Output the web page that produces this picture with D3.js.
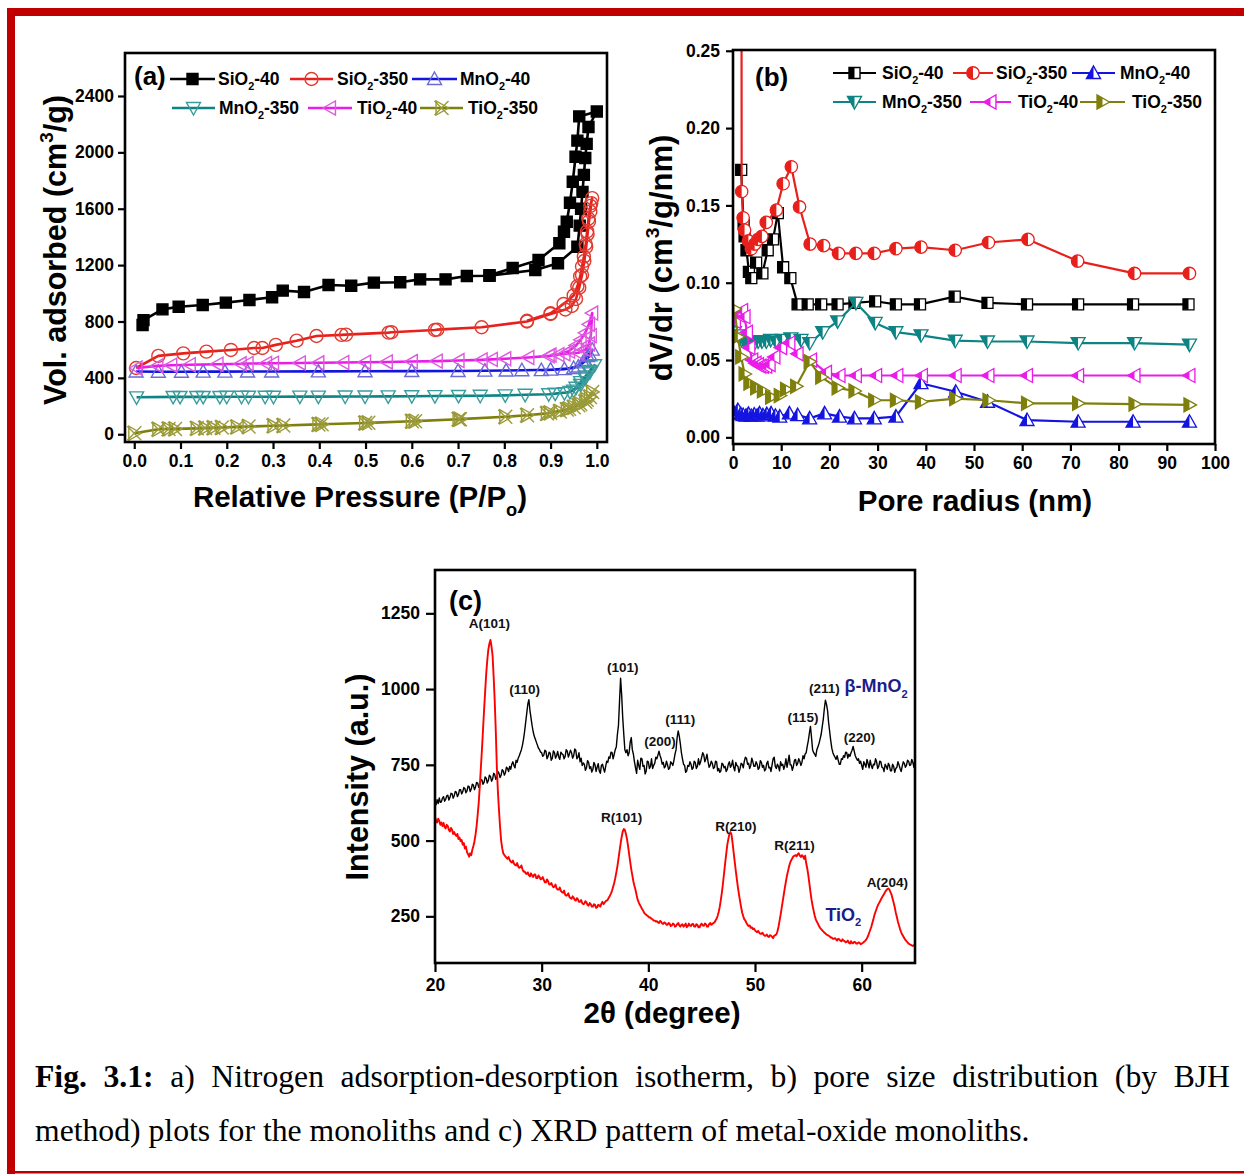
<!DOCTYPE html>
<html>
<head>
<meta charset="utf-8">
<script src="https://cdn.jsdelivr.net/npm/d3@7/dist/d3.min.js"></script>
<style>
  body { margin: 0; background: #fff; }
</style>
</head>
<body>
<svg id="fig" width="1244" height="1174" font-family="Arial, 'Liberation Sans', sans-serif"></svg>
<script>
// ---------- (a) N2 adsorption–desorption isotherms: [P/Po, volume cm3/g] ----------
const isoSiO2_40 = [[0.018,775],[0.02,810],[0.061,886],[0.096,905],[0.148,917],[0.198,934],[0.249,953],[0.298,972],[0.321,1019],[0.367,1009],[0.42,1059],[0.469,1054],[0.518,1076],[0.575,1078],[0.618,1099],[0.673,1099],[0.719,1123],[0.768,1125],[0.867,1165],[0.916,1213],[0.958,1330],[0.963,1480],[0.966,1600],[0.969,1720],[0.972,1840],[0.975,1960],[0.978,2060],[0.982,2180],[1.0,2290],[0.962,2255],[0.958,2083],[0.954,1969],[0.948,1792],[0.942,1643],[0.935,1508],[0.929,1437],[0.919,1355],[0.874,1236],[0.818,1180],[0.768,1128]];
const isoSiO2_350 = [[0.004,470],[0.052,556],[0.106,574],[0.156,586],[0.209,598],[0.259,612],[0.277,612],[0.306,634],[0.351,664],[0.394,697],[0.448,705],[0.458,707],[0.55,721],[0.556,724],[0.65,740],[0.655,742],[0.751,759],[0.849,800],[0.9,853],[0.932,885],[0.946,910],[0.955,960],[0.962,1040],[0.968,1130],[0.973,1230],[0.977,1330],[0.98,1420],[0.983,1510],[0.986,1580],[0.988,1640],[0.99,1675],[0.986,1620],[0.982,1530],[0.979,1440],[0.976,1350],[0.972,1260],[0.968,1190],[0.964,1120],[0.958,1050],[0.95,985],[0.928,924],[0.9,858],[0.849,805]];
const isoMnO2_40 = [[0.004,445],[0.052,443],[0.102,443],[0.149,444],[0.196,444],[0.245,445],[0.297,445],[0.398,446],[0.499,447],[0.6,448],[0.7,449],[0.758,451],[0.804,452],[0.838,454],[0.9,458],[0.95,470],[0.97,510],[0.98,555],[0.99,600],[0.985,560],[0.975,520],[0.96,480],[0.93,462],[0.88,455]];
const isoMnO2_350 = [[0.005,262],[0.084,265],[0.099,265],[0.135,265],[0.149,265],[0.185,265],[0.2,266],[0.232,266],[0.247,266],[0.283,266],[0.301,266],[0.358,267],[0.398,267],[0.456,268],[0.499,268],[0.549,269],[0.6,270],[0.65,271],[0.701,272],[0.748,273],[0.802,276],[0.845,280],[0.896,284],[0.91,288],[0.942,300],[0.955,330],[0.965,370],[0.975,410],[0.985,450],[0.995,490],[0.985,440],[0.975,395],[0.965,350],[0.95,310],[0.93,292]];
const isoTiO2_40 = [[0.005,470],[0.05,485],[0.08,490],[0.12,493],[0.18,497],[0.23,500],[0.245,502],[0.285,503],[0.3,504],[0.358,506],[0.398,507],[0.452,509],[0.499,511],[0.546,513],[0.6,516],[0.654,519],[0.701,523],[0.751,528],[0.773,531],[0.802,536],[0.852,545],[0.896,556],[0.917,565],[0.94,590],[0.955,630],[0.965,670],[0.975,720],[0.983,780],[0.99,860],[0.987,700],[0.983,640],[0.975,600],[0.96,578],[0.93,570],[0.9,562]];
const isoTiO2_350 = [[0.0,7],[0.052,35],[0.074,38],[0.088,38],[0.135,42],[0.153,44],[0.171,46],[0.189,48],[0.222,52],[0.247,55],[0.301,60],[0.322,62],[0.398,70],[0.405,71],[0.499,80],[0.506,81],[0.6,92],[0.607,93],[0.701,106],[0.704,107],[0.802,124],[0.849,135],[0.892,148],[0.899,152],[0.935,175],[0.95,192],[0.964,215],[0.978,245],[0.99,300],[0.985,265],[0.975,230],[0.96,205],[0.94,180],[0.92,162]];

// ---------- (b) BJH pore size distribution: [pore radius nm, dV/dr] ----------
const psdSiO2_40 = [[1.7,0.173],[2.2,0.138],[2.4,0.130],[2.8,0.121],[3.3,0.107],[3.8,0.103],[4.8,0.113],[6.1,0.106],[7.2,0.121],[8.3,0.128],[9.3,0.145],[10.4,0.110],[11.9,0.103],[13.4,0.086],[15.5,0.086],[18.3,0.086],[21.7,0.086],[25.2,0.087],[29.5,0.088],[33.8,0.086],[38.8,0.086],[46.0,0.091],[52.8,0.087],[61.0,0.086],[71.6,0.086],[83.0,0.086],[94.5,0.086]];
const psdSiO2_350 = [[1.75,0.34],[1.8,0.159],[2.1,0.142],[2.4,0.134],[3.2,0.127],[3.8,0.122],[4.5,0.125],[5.2,0.128],[6.0,0.130],[6.9,0.139],[9.0,0.147],[10.4,0.164],[12.1,0.175],[13.8,0.149],[16.0,0.125],[18.8,0.124],[21.9,0.119],[25.5,0.119],[29.3,0.119],[33.8,0.122],[39.0,0.123],[46.1,0.121],[53.0,0.126],[61.2,0.128],[71.5,0.114],[83.3,0.106],[94.7,0.106]];
const psdMnO2_40 = [[0.3,0.0155],[1.0,0.0177],[1.6,0.0150],[2.1,0.0144],[2.7,0.0140],[3.2,0.0152],[3.8,0.0138],[4.4,0.0148],[5.0,0.0140],[5.5,0.0155],[6.2,0.0142],[7.0,0.0150],[7.9,0.0155],[8.8,0.0140],[9.7,0.0134],[11.7,0.0155],[13.4,0.0144],[15.9,0.0123],[19.0,0.0155],[22.1,0.0134],[25.2,0.0123],[29.3,0.0123],[33.8,0.0134],[39.0,0.035],[46.2,0.0295],[52.8,0.023],[61.0,0.0112],[71.6,0.0101],[83.0,0.0101],[94.7,0.0101]];
const psdMnO2_350 = [[0.3,0.068],[1.0,0.066],[1.8,0.063],[2.5,0.062],[3.2,0.061],[3.8,0.062],[4.5,0.061],[5.2,0.062],[6.0,0.062],[6.9,0.062],[7.8,0.063],[8.9,0.062],[10.2,0.063],[12.0,0.064],[14.1,0.063],[15.9,0.061],[18.6,0.068],[21.7,0.075],[25.5,0.087],[29.5,0.074],[33.8,0.068],[39.0,0.066],[46.1,0.0625],[52.8,0.062],[61.0,0.062],[71.6,0.061],[83.3,0.061],[94.7,0.060]];
const psdTiO2_40 = [[0.4,0.075],[1.2,0.079],[1.9,0.082],[2.4,0.078],[2.9,0.068],[3.4,0.058],[4.0,0.050],[4.7,0.048],[5.2,0.047],[5.7,0.046],[6.2,0.046],[6.9,0.046],[7.6,0.047],[8.6,0.052],[10.0,0.058],[11.7,0.061],[13.4,0.054],[16.2,0.050],[19.3,0.042],[22.1,0.040],[25.5,0.040],[29.7,0.040],[34.1,0.040],[39.2,0.040],[46.2,0.040],[53.0,0.040],[61.0,0.040],[71.6,0.040],[83.3,0.040],[94.7,0.040]];
const psdTiO2_350 = [[0.3,0.083],[1.0,0.065],[1.7,0.052],[2.4,0.041],[3.4,0.035],[4.8,0.032],[6.2,0.030],[7.9,0.026],[9.7,0.027],[11.0,0.031],[13.1,0.033],[15.9,0.049],[18.3,0.039],[21.7,0.032],[25.2,0.030],[29.3,0.024],[33.8,0.024],[39.0,0.023],[46.1,0.025],[53.0,0.024],[61.0,0.022],[71.6,0.022],[83.3,0.0215],[94.7,0.021]];

// ---------- (c) XRD patterns, 2θ = 20.0° … 65.0° in 0.1° steps (one row per degree) ----------
const xrdStart = 20, xrdStep = 0.1;
const xrdMnO2 = [
  630,618,635,622,641,626,628,640,645,630,
  636,648,650,634,642,656,655,640,648,662,
  660,645,652,668,668,654,661,675,672,658,
  664,680,678,662,670,686,683,668,677,692,
  690,676,684,702,700,686,692,710,706,690,
  698,716,712,696,703,722,718,702,710,728,
  722,708,716,734,730,716,724,742,738,728,
  745,735,752,760,748,740,765,758,772,780,
  790,800,815,835,860,890,920,950,965,930,
  905,880,860,845,835,825,815,805,800,792,
  790,778,782,798,795,770,778,792,788,765,
  772,796,790,772,780,794,776,768,792,786,
  784,770,778,800,795,776,786,798,790,772,
  780,802,798,770,775,790,760,772,748,756,
  752,732,740,764,758,738,744,726,735,758,
  750,728,742,754,730,722,748,752,738,726,
  745,762,758,776,772,792,790,770,785,800,
  810,850,880,960,1036,980,905,850,800,790,
  800,780,790,825,840,800,785,760,740,722,
  765,748,735,772,770,745,748,720,730,762,
  760,738,745,770,738,748,755,775,770,782,
  795,780,770,752,758,740,745,762,750,735,
  740,760,755,748,765,785,800,840,862,845,
  820,790,770,752,748,725,730,748,745,760,
  752,735,740,762,758,738,745,770,750,760,
  775,790,782,760,770,785,760,742,748,762,
  755,738,742,762,760,730,738,725,730,755,
  752,740,745,728,735,752,760,742,748,765,
  742,730,758,748,745,725,738,755,752,740,
  762,775,772,752,755,738,748,772,760,745,
  745,760,752,735,740,764,758,742,748,730,
  735,755,762,740,742,728,750,770,775,745,
  738,752,745,730,760,748,752,735,748,770,
  742,760,782,750,750,732,745,765,768,748,
  755,770,762,748,758,780,770,786,790,812,
  830,855,877,840,800,790,785,778,800,810,
  820,835,850,875,900,935,963,950,930,890,
  860,830,805,790,782,775,768,780,765,752,
  752,770,768,780,775,792,790,772,785,778,
  790,798,811,795,780,772,765,770,755,762,
  748,735,760,752,742,768,755,740,765,748,
  738,752,750,770,760,738,745,762,760,742,
  740,728,752,745,735,755,748,730,730,752,
  745,725,738,742,760,750,738,728,745,760,
  755,742,748,765,762,748,750,768,758,742,
  770
];
const xrdTiO2 = [
  579,566,560,572,565,552,560,548,558,545,
  540,552,548,535,530,542,536,522,528,520,
  515,522,505,510,498,502,486,492,474,480,
  462,455,447,458,452,470,482,498,520,548,
  585,625,680,740,800,865,930,990,1050,1095,
  1130,1150,1162,1140,1110,1040,960,860,740,660,
  600,545,500,475,458,452,448,444,440,446,
  436,430,428,434,424,420,418,426,415,410,
  412,418,405,398,398,392,390,395,386,382,
  392,385,380,388,388,376,376,385,380,372,
  374,380,370,362,362,372,366,356,355,360,
  352,346,348,355,342,338,338,345,334,330,
  328,335,322,318,320,326,314,310,308,316,
  312,304,302,310,306,298,298,304,294,290,
  292,300,296,288,285,294,290,282,282,290,
  288,278,280,288,286,282,292,298,290,295,
  300,302,305,312,318,326,335,348,360,376,
  395,415,440,465,490,512,530,538,535,522,
  505,482,455,430,405,385,365,350,337,320,
  305,296,288,282,275,270,262,258,255,252,
  250,246,246,242,240,236,236,233,234,230,
  228,235,232,226,225,230,228,222,222,228,
  226,218,220,226,224,216,218,224,228,220,
  216,222,224,216,220,226,214,218,226,220,
  218,224,225,216,216,224,222,214,214,222,
  226,220,219,226,224,216,216,224,228,222,
  225,228,230,236,242,252,265,282,305,330,
  360,392,425,455,485,505,522,528,520,492,
  460,430,400,372,345,322,300,280,262,250,
  240,236,228,222,218,220,212,214,208,210,
  204,200,198,202,196,192,192,196,190,186,
  186,190,184,182,188,186,182,178,186,188,
  190,200,215,235,255,278,300,322,345,365,
  385,400,415,428,435,442,448,450,452,448,
  455,458,450,446,452,448,440,450,425,408,
  385,358,330,305,285,268,252,240,232,226,
  218,212,208,204,200,196,194,190,188,186,
  184,180,180,176,176,178,174,170,176,174,
  170,168,174,170,168,164,166,170,163,160,
  168,162,161,166,165,160,160,164,163,158,
  160,162,165,168,172,178,185,195,205,215,
  228,240,255,265,275,285,292,298,305,312,
  318,324,330,336,340,342,338,330,322,308,
  295,280,262,248,232,220,208,198,190,184,
  178,172,168,164,160,158,156,154,152,154,
  158
];
// reflection labels: [text, 2θ, intensity at label baseline]
const xrdPeakLabels = [
  ['A(101)',25.1,1202],['(110)',28.4,984],['(101)',37.6,1056],['(200)',41.1,812],
  ['(111)',43.0,885],['(115)',54.5,891],['(211)',56.5,987],['(220)',59.8,825],
  ['R(101)',37.5,561],['R(210)',48.2,532],['R(211)',53.7,469],['A(204)',62.4,347]
];
const xrdPhaseLabels = [['β-MnO_{2}',58.4,990],['TiO_{2}',56.6,235]];

// tick values
const isoXTicks = [0,0.1,0.2,0.3,0.4,0.5,0.6,0.7,0.8,0.9,1.0];
const isoYTicks = [0,400,800,1200,1600,2000,2400];
const psdXTicks = [0,10,20,30,40,50,60,70,80,90,100];
const psdYTicks = [0,0.05,0.10,0.15,0.20,0.25];
const xrdXTicks = [20,30,40,50,60];
const xrdYTicks = [250,500,750,1000,1250];

// caption
const captionLine1 = [['Fig.',true],['3.1:',true],['a)'],['Nitrogen'],['adsorption-desorption'],['isotherm,'],['b)'],['pore'],['size'],['distribution'],['(by'],['BJH']];
const captionLine2 = 'method) plots for the monoliths and c) XRD pattern of metal-oxide monoliths.';

// ---------- drawing ----------
const sansFont = "Arial, 'Liberation Sans', sans-serif";
const serifFont = "'Liberation Serif', 'Times New Roman', serif";
const svg = d3.select('#fig');
const defs = svg.append('defs');
defs.append('clipPath').attr('id','lhalf').attr('clipPathUnits','userSpaceOnUse')
  .append('rect').attr('x',-20).attr('y',-20).attr('width',20).attr('height',40);

// page border
svg.append('rect').attr('x',7).attr('y',8).attr('width',8).attr('height',1166).attr('fill','#c00000');
svg.append('rect').attr('x',7).attr('y',8).attr('width',1237).attr('height',8).attr('fill','#c00000');
svg.append('rect').attr('x',7).attr('y',1171).attr('width',1237).attr('height',2.5).attr('fill','#b80000');

// text with _{sub} and ^{sup} pieces
function rich(sel, str, size) {
  const re = /([_^])\{([^}]*)\}/g;
  let last = 0, cur = 0, m;
  const add = (txt, off, small) => {
    const t = sel.append('tspan').attr('dy', off - cur).text(txt);
    if (small) t.attr('font-size', size * 0.62);
    cur = off;
  };
  while ((m = re.exec(str))) {
    if (m.index > last) add(str.slice(last, m.index), 0, false);
    add(m[2], m[1] === '_' ? size * 0.3 : -size * 0.42, true);
    last = re.lastIndex;
  }
  if (last < str.length) add(str.slice(last), 0, false);
  return sel;
}

function markerPath(shape, s) {
  switch (shape) {
    case 'square': return `M${-s},${-s}H${s}V${s}H${-s}Z`;
    case 'circle': return `M${-s},0A${s},${s} 0 1,0 ${s},0A${s},${s} 0 1,0 ${-s},0Z`;
    case 'up': return `M0,${-s}L${s},${s*0.78}L${-s},${s*0.78}Z`;
    case 'down': return `M0,${s}L${s},${-s*0.78}L${-s},${-s*0.78}Z`;
    case 'left': return `M${-s},0L${s*0.78},${-s}L${s*0.78},${s}Z`;
    case 'right': return `M${s},0L${-s*0.78},${-s}L${-s*0.78},${s}Z`;
    case 'rightx': return `M${s},0L${-s*0.78},${-s}L${-s*0.78},${s}Z M${-s},${-s}L${s},${s}M${-s},${s}L${s},${-s}`;
  }
}

// one marker at (cx,cy); style 'filled' | 'open' | 'half'
function marker(g, cx, cy, shape, s, color, style, sw) {
  const m = g.append('g').attr('transform', `translate(${cx},${cy})`);
  const d = markerPath(shape, s);
  if (style === 'filled') {
    m.append('path').attr('d', d).attr('fill', color).attr('stroke', color).attr('stroke-width', sw);
  } else if (style === 'open') {
    m.append('path').attr('d', d).attr('fill', 'none').attr('stroke', color).attr('stroke-width', sw);
  } else {
    m.append('path').attr('d', d).attr('fill', '#fff');
    m.append('path').attr('d', d).attr('fill', color).attr('clip-path', 'url(#lhalf)');
    m.append('path').attr('d', d).attr('fill', 'none').attr('stroke', color).attr('stroke-width', sw);
  }
}

function panel(id, box, xDom, yDom) {
  const g = svg.append('g');
  const x = d3.scaleLinear().domain(xDom).range([box.x0, box.x1]);
  const y = d3.scaleLinear().domain(yDom).range([box.y1, box.y0]);
  defs.append('clipPath').attr('id', 'clip-' + id)
    .append('rect').attr('x', box.x0).attr('y', box.y0)
    .attr('width', box.x1 - box.x0).attr('height', box.y1 - box.y0);
  const plot = g.append('g').attr('clip-path', `url(#clip-${id})`);
  return { g, x, y, plot, box };
}

function axes(p, o) {
  const style = sel => {
    sel.select('.domain').remove();
    sel.attr('font-size', 17.5).attr('font-weight', 'bold').attr('font-family', sansFont);
    sel.selectAll('line').attr('stroke', '#000').attr('stroke-width', 2.2);
    sel.selectAll('text').attr('fill', '#000');
  };
  p.g.append('g').attr('transform', `translate(0,${p.box.y1})`)
    .call(d3.axisBottom(p.x).tickValues(o.xt).tickFormat(o.xf).tickSize(o.tl).tickPadding(o.xpad))
    .call(style);
  p.g.append('g').attr('transform', `translate(${p.box.x0},0)`)
    .call(d3.axisLeft(p.y).tickValues(o.yt).tickFormat(o.yf).tickSize(o.tl).tickPadding(o.ypad))
    .call(style);
  p.g.append('rect').attr('x', p.box.x0).attr('y', p.box.y0)
    .attr('width', p.box.x1 - p.box.x0).attr('height', p.box.y1 - p.box.y0)
    .attr('fill', 'none').attr('stroke', '#000').attr('stroke-width', 2.6);
}

function title(x, y, str, size, rotate) {
  const t = svg.append('text').attr('font-size', size).attr('font-weight', 'bold')
    .attr('text-anchor', 'middle').attr('fill', '#000');
  if (rotate) t.attr('transform', `translate(${x},${y}) rotate(-90)`);
  else t.attr('x', x).attr('y', y);
  rich(t, str, size);
}

function legendEntry(g, item, x0, x1, y, tx, s, mstyle, lw) {
  g.append('line').attr('x1', x0).attr('x2', x1).attr('y1', y).attr('y2', y)
    .attr('stroke', item.color).attr('stroke-width', lw);
  marker(g, (x0 + x1) / 2, y, item.shape, s, mstyle === 'half' ? item.color : item.mcolor,
         item.filled ? 'filled' : mstyle, 1.4);
  const t = g.append('text').attr('x', tx).attr('y', y + 6).attr('font-size', 17.5)
    .attr('font-weight', 'bold').attr('fill', '#000');
  rich(t, item.name, 17.5);
}

// ===== (a) =====
const isoSeries = [
  { name: 'SiO_{2}-40',  data: isoSiO2_40,  color: '#000000', mcolor: '#000000', shape: 'square', filled: true, s: 5.5 },
  { name: 'SiO_{2}-350', data: isoSiO2_350, color: '#e8201c', mcolor: '#e23a30', shape: 'circle', s: 6.5 },
  { name: 'MnO_{2}-40',  data: isoMnO2_40,  color: '#1414e0', mcolor: '#6a6ad8', shape: 'up', s: 7 },
  { name: 'MnO_{2}-350', data: isoMnO2_350, color: '#0d8383', mcolor: '#3a9c9c', shape: 'down', s: 7 },
  { name: 'TiO_{2}-40',  data: isoTiO2_40,  color: '#ea1cea', mcolor: '#dc5adc', shape: 'left', s: 7 },
  { name: 'TiO_{2}-350', data: isoTiO2_350, color: '#7f7f0c', mcolor: '#9a9a38', shape: 'rightx', s: 7 }
];
const pA = panel('a', { x0: 125, x1: 607, y0: 53, y1: 442 }, [-0.02, 1.022], [-55, 2705]);
isoSeries.forEach(sr => {
  const line = d3.line().x(d => pA.x(d[0])).y(d => pA.y(d[1]));
  pA.plot.append('path').attr('d', line(sr.data)).attr('fill', 'none')
    .attr('stroke', sr.color).attr('stroke-width', 2.6).attr('stroke-linejoin', 'round');
  sr.data.forEach(d => marker(pA.plot, pA.x(d[0]), pA.y(d[1]), sr.shape, sr.s,
    sr.mcolor, sr.filled ? 'filled' : 'open', 1.4));
});
axes(pA, { xt: isoXTicks, xf: d3.format('.1f'), yt: isoYTicks, yf: d3.format('d'),
           tl: 7, xpad: 6, ypad: 4 });
svg.append('text').attr('x', 134).attr('y', 85).attr('font-size', 26)
  .attr('font-weight', 'bold').text('(a)');
const legA = svg.append('g');
legendEntry(legA, isoSeries[0], 170, 215, 79, 218, 5.5, 'open', 2.6);
legendEntry(legA, isoSeries[1], 290, 333, 79, 337, 6.5, 'open', 2.6);
legendEntry(legA, isoSeries[2], 412, 457, 79, 460, 7, 'open', 2.6);
legendEntry(legA, isoSeries[3], 172, 215, 108, 219, 7, 'open', 2.6);
legendEntry(legA, isoSeries[4], 308, 352, 108, 357, 7, 'open', 2.6);
legendEntry(legA, isoSeries[5], 420, 463, 108, 468, 7, 'open', 2.6);
title(360, 507, 'Relative Pressure (P/P_{o})', 29.5);
title(66, 250, 'Vol. adsorbed (cm^{3}/g)', 30.5, true);

// ===== (b) =====
const psdSeries = [
  { name: 'SiO_{2}-40',  data: psdSiO2_40,  color: '#000000', shape: 'square', s: 5.5 },
  { name: 'SiO_{2}-350', data: psdSiO2_350, color: '#e8201c', shape: 'circle', s: 6.2 },
  { name: 'MnO_{2}-40',  data: psdMnO2_40,  color: '#1414e0', shape: 'up', s: 7 },
  { name: 'MnO_{2}-350', data: psdMnO2_350, color: '#0d8383', shape: 'down', s: 7 },
  { name: 'TiO_{2}-40',  data: psdTiO2_40,  color: '#ea1cea', shape: 'left', s: 7 },
  { name: 'TiO_{2}-350', data: psdTiO2_350, color: '#7f7f0c', shape: 'right', s: 7 }
];
const pB = panel('b', { x0: 733, x1: 1215, y0: 50, y1: 444 }, [0, 100], [-0.0043, 0.2505]);
psdSeries.forEach(sr => {
  const line = d3.line().x(d => pB.x(d[0])).y(d => pB.y(d[1]));
  pB.plot.append('path').attr('d', line(sr.data)).attr('fill', 'none')
    .attr('stroke', sr.color).attr('stroke-width', 2.2).attr('stroke-linejoin', 'round');
  sr.data.forEach(d => marker(pB.plot, pB.x(d[0]), pB.y(d[1]), sr.shape, sr.s,
    sr.color, 'half', 1.3));
});
axes(pB, { xt: psdXTicks, xf: d3.format('d'), yt: psdYTicks, yf: d3.format('.2f'),
           tl: 7, xpad: 6, ypad: 6 });
svg.append('text').attr('x', 755).attr('y', 86).attr('font-size', 26)
  .attr('font-weight', 'bold').text('(b)');
const legB = svg.append('g');
legendEntry(legB, psdSeries[0], 833, 876, 73, 882, 5.5, 'half', 2.2);
legendEntry(legB, psdSeries[1], 953, 993, 73, 996, 6.2, 'half', 2.2);
legendEntry(legB, psdSeries[2], 1072, 1115, 73, 1120, 7, 'half', 2.2);
legendEntry(legB, psdSeries[3], 833, 876, 102, 882, 7, 'half', 2.2);
legendEntry(legB, psdSeries[4], 970, 1011, 102, 1018, 7, 'half', 2.2);
legendEntry(legB, psdSeries[5], 1080, 1125, 102, 1132, 7, 'half', 2.2);
title(975, 511, 'Pore radius (nm)', 29.5);
title(672, 258, 'dV/dr (cm^{3}/g/nm)', 31, true);

// ===== (c) =====
const pC = panel('c', { x0: 435, x1: 915, y0: 570, y1: 963 }, [20, 65], [96, 1393]);
const xrdLine = d3.line().x((d, i) => pC.x(xrdStart + i * xrdStep)).y(d => pC.y(d));
pC.plot.append('path').attr('d', xrdLine(xrdMnO2)).attr('fill', 'none')
  .attr('stroke', '#000').attr('stroke-width', 1.4).attr('stroke-linejoin', 'round');
pC.plot.append('path').attr('d', xrdLine(xrdTiO2)).attr('fill', 'none')
  .attr('stroke', '#ff0000').attr('stroke-width', 1.9).attr('stroke-linejoin', 'round');
axes(pC, { xt: xrdXTicks, xf: d3.format('d'), yt: xrdYTicks, yf: d3.format('d'),
           tl: 9, xpad: 7, ypad: 6 });
xrdPeakLabels.forEach(([txt, t, v]) => {
  svg.append('text').attr('x', pC.x(t)).attr('y', pC.y(v)).attr('text-anchor', 'middle')
    .attr('font-size', 13.5).attr('font-weight', 'bold').attr('fill', '#111').text(txt);
});
xrdPhaseLabels.forEach(([txt, t, v]) => {
  const el = svg.append('text').attr('x', pC.x(t)).attr('y', pC.y(v))
    .attr('font-size', 18).attr('font-weight', 'bold').attr('fill', '#1c1c8a');
  rich(el, txt, 18);
});
svg.append('text').attr('x', 449).attr('y', 610).attr('font-size', 27)
  .attr('font-weight', 'bold').text('(c)');
title(662, 1023, '2θ (degree)', 29.5);
title(368, 777, 'Intensity (a.u.)', 30.5, true);

// ===== caption: first line justified between the margins =====
const capSize = 31.7, capLeft = 35, capRight = 1230;
const cap1 = svg.append('text').attr('y', 1087).attr('font-family', serifFont)
  .attr('font-size', capSize).attr('fill', '#000');
const words = captionLine1.map(([w, bold]) => {
  const ts = cap1.append('tspan').text(w);
  if (bold) ts.attr('font-weight', 'bold');
  return ts;
});
const widths = words.map(ts => ts.node().getComputedTextLength());
const gap = (capRight - capLeft - d3.sum(widths)) / (words.length - 1);
let cx = capLeft;
words.forEach((ts, i) => { ts.attr('x', cx); cx += widths[i] + gap; });
svg.append('text').attr('x', capLeft).attr('y', 1141).attr('font-family', serifFont)
  .attr('font-size', capSize).attr('fill', '#000').text(captionLine2);
</script>
</body>
</html>
